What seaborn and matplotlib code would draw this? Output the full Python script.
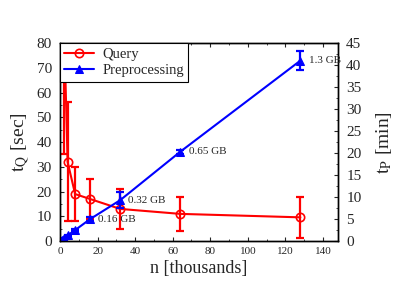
import numpy as np
import pandas as pd
import matplotlib
matplotlib.use("Agg")
import matplotlib.pyplot as plt
import seaborn as sns
from matplotlib.ticker import MultipleLocator

# data
n_thousands = [1, 2, 4, 8, 16, 32, 64, 128]
query_sec = [150, 90, 32, 19, 17, 13, 11, 9.6]
query_err = [60, 55, 24, 11, 8, 8, 7, 8.3]
prep_min = [0.3, 0.6, 1.3, 2.5, 5.0, 9.3, 20.3, 41.0]
prep_err = [0.1, 0.1, 0.2, 0.3, 0.4, 1.8, 0.5, 2.1]
mem_labels = {16: "0.16 GB", 32: "0.32 GB", 64: "0.65 GB", 128: "1.3 GB"}

df = pd.DataFrame({"n": n_thousands, "tq": query_sec, "tq_err": query_err,
                   "tp": prep_min, "tp_err": prep_err})

sns.set_style("ticks")
plt.rcParams["font.family"] = ["Liberation Serif", "DejaVu Serif"]
plt.rcParams["mathtext.fontset"] = "stix"
plt.rcParams["xtick.direction"] = "in"
plt.rcParams["ytick.direction"] = "in"

fig = plt.figure(figsize=(3.98, 2.85), dpi=100)
ax1 = fig.add_axes([0.151, 0.154, 0.698, 0.695])
ax2 = ax1.twinx()

red = "#ff0000"
blue = "#0000ff"

# query time, left axis
ax1.errorbar(df["n"], df["tq"], yerr=df["tq_err"], fmt="none", ecolor=red,
             elinewidth=1.6, capsize=3, capthick=1.6)
sns.lineplot(data=df, x="n", y="tq", ax=ax1, color=red, lw=1.5, marker="o",
             markersize=6, markerfacecolor="none", markeredgecolor=red,
             markeredgewidth=1.2, label="Query", legend=False)

# preprocessing time, right axis
ax2.errorbar(df["n"], df["tp"], yerr=df["tp_err"], fmt="none", ecolor=blue,
             elinewidth=1.6, capsize=3, capthick=1.6)
sns.lineplot(data=df, x="n", y="tp", ax=ax2, color=blue, lw=1.5, marker="^",
             markersize=6, markeredgecolor=blue, label="Preprocessing", legend=False)

for n, txt in mem_labels.items():
    y = df.loc[df["n"] == n, "tp"].iloc[0]
    ax2.annotate(txt, (n, y), xytext=(6, 0), textcoords="offset points",
                 fontsize=8, va="center", ha="left")

ax1.set_xlim(0, 148)
ax1.set_ylim(0, 80)
ax2.set_ylim(0, 45)

ax1.xaxis.set_major_locator(MultipleLocator(20))
ax1.xaxis.set_minor_locator(MultipleLocator(10))
ax1.yaxis.set_major_locator(MultipleLocator(10))
ax1.yaxis.set_minor_locator(MultipleLocator(5))
ax2.yaxis.set_major_locator(MultipleLocator(5))
ax2.yaxis.set_minor_locator(MultipleLocator(2.5))

ax1.tick_params(axis="x", which="both", top=True, labelsize=8, pad=4)
ax1.tick_params(axis="y", which="both", right=False, labelsize=11, pad=6)
ax2.tick_params(axis="y", which="both", labelsize=11, pad=6)
for a in (ax1, ax2):
    a.tick_params(which="major", length=3, width=0.8)
    a.tick_params(which="minor", length=1.5, width=0.6)
    for s in a.spines.values():
        s.set_linewidth(1.0)
        s.set_color("black")

ax1.set_xlabel("n [thousands]", fontsize=13, labelpad=3)
ax1.set_ylabel(r"$\mathrm{t_Q}$ [sec]", fontsize=14, labelpad=3)
ax2.set_ylabel(r"$\mathrm{t_P}$ [min]", fontsize=14, labelpad=9)

h1, l1 = ax1.get_legend_handles_labels()
h2, l2 = ax2.get_legend_handles_labels()
leg = ax2.legend(h1 + h2, l1 + l2, loc="upper left", fontsize=10.5,
                 frameon=True, fancybox=False, borderaxespad=0,
                 handlelength=2.0, borderpad=0.3, labelspacing=0.25,
                 handletextpad=0.6)
leg.get_frame().set_edgecolor("black")
leg.get_frame().set_linewidth(0.8)
leg.get_frame().set_alpha(1)

fig.savefig("out.png", dpi=100)
